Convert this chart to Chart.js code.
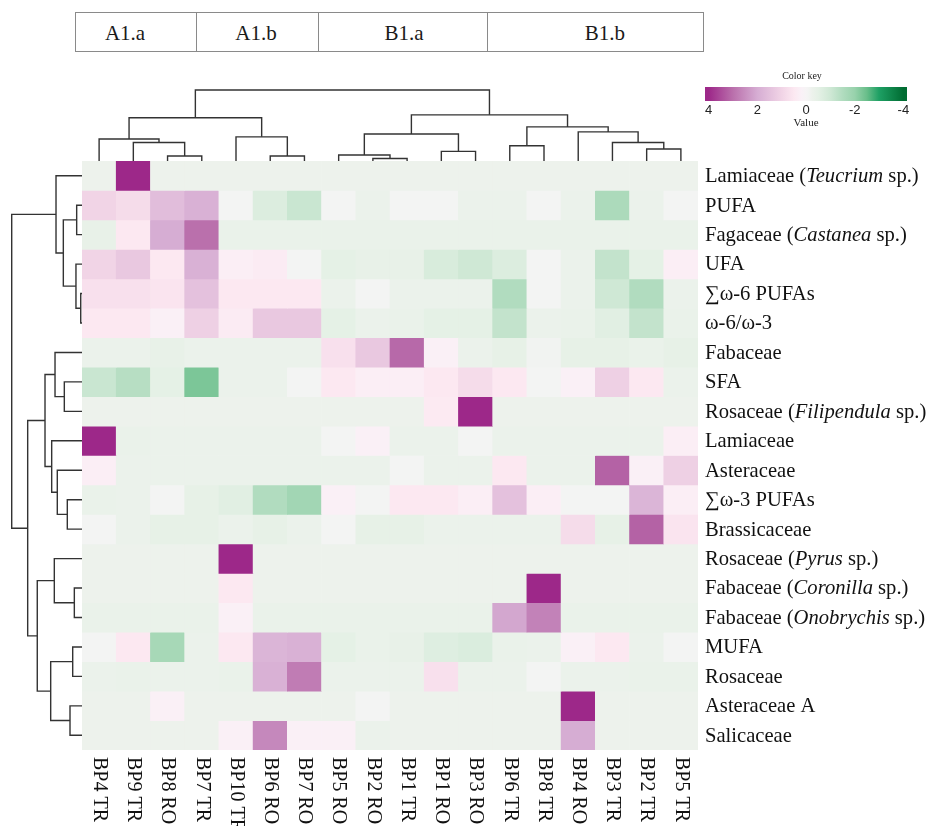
<!DOCTYPE html>
<html>
<head>
<meta charset="utf-8">
<script src="https://cdn.jsdelivr.net/npm/chart.js@4.4.1/dist/chart.umd.min.js"></script>
<style>
  html, body { margin: 0; padding: 0; background: #fff; }
  body { width: 941px; height: 826px; position: relative; overflow: hidden; font-family: "Liberation Serif", serif; }
  canvas.layer { position: absolute; left: 0; top: 0; }
  #groups { position: absolute; left: 75px; top: 12px; width: 629px; height: 40px; box-sizing: border-box; border: 1.5px solid #8a8a8a; }
  .divider { position: absolute; top: 12px; width: 0; height: 40px; border-left: 1.5px solid #8a8a8a; }
  .glabel { position: absolute; top: 33px; transform: translate(-50%, -50%); font-size: 21px; color: #1a1a1a; white-space: nowrap; }
</style>
</head>
<body>
<div id="groups"></div>
<div class="divider" style="left:196px"></div>
<div class="divider" style="left:318px"></div>
<div class="divider" style="left:487px"></div>
<div class="glabel" style="left:125px">A1.a</div>
<div class="glabel" style="left:256px">A1.b</div>
<div class="glabel" style="left:404px">B1.a</div>
<div class="glabel" style="left:605px">B1.b</div>

<canvas class="layer" id="heat" width="941" height="826"></canvas>
<canvas class="layer" id="dendroTop" width="941" height="826"></canvas>
<canvas class="layer" id="dendroLeft" width="941" height="826"></canvas>
<canvas class="layer" id="key" width="941" height="826"></canvas>

<script>
// ---- Samples (columns, in dendrogram order) ----
const columns = ["BP4 TR", "BP9 TR", "BP8 RO", "BP7 TR", "BP10 TR", "BP6 RO", "BP7 RO", "BP5 RO", "BP2 RO",
                 "BP1 TR", "BP1 RO", "BP3 RO", "BP6 TR", "BP8 TR", "BP4 RO", "BP3 TR", "BP2 TR", "BP5 TR"];

// ---- Variables (rows, in dendrogram order); _text_ is set in italics ----
const rowLabels = ["Lamiaceae (_Teucrium_ sp.)", "PUFA", "Fagaceae (_Castanea_ sp.)", "UFA", "\u2211\u03c9-6 PUFAs",
                   "\u03c9-6/\u03c9-3", "Fabaceae", "SFA", "Rosaceae (_Filipendula_ sp.)", "Lamiaceae", "Asteraceae",
                   "\u2211\u03c9-3 PUFAs", "Brassicaceae", "Rosaceae (_Pyrus_ sp.)", "Fabaceae (_Coronilla_ sp.)",
                   "Fabaceae (_Onobrychis_ sp.)", "MUFA", "Rosaceae", "Asteraceae A", "Salicaceae"];

// ---- Row-scaled values, one array per variable ----
const lamiaceaeTeucrium = [-0.24, 4.1, -0.24, -0.24, -0.24, -0.24, -0.24, -0.24, -0.24, -0.24, -0.24, -0.24, -0.24, -0.24, -0.24, -0.24, -0.24, -0.24];
const pufa              = [1.0, 0.8, 1.6, 1.9, -0.1, -0.7, -1.1, -0.1, -0.3, -0.1, -0.1, -0.3, -0.3, -0.1, -0.3, -1.6, -0.3, -0.1];
const fagaceaeCastanea  = [-0.4, 0.5, 2.0, 3.0, -0.35, -0.35, -0.35, -0.35, -0.35, -0.35, -0.35, -0.35, -0.35, -0.35, -0.35, -0.35, -0.35, -0.35];
const ufa               = [1.0, 1.3, 0.5, 1.9, 0.3, 0.4, -0.1, -0.5, -0.4, -0.4, -0.8, -1.0, -0.7, -0.1, -0.3, -1.2, -0.5, 0.3];
const omega6Sum         = [0.7, 0.7, 0.6, 1.5, 0.5, 0.5, 0.5, -0.3, -0.1, -0.3, -0.3, -0.3, -1.5, -0.1, -0.3, -1.0, -1.5, -0.3];
const omega6to3         = [0.5, 0.5, 0.25, 1.1, 0.4, 1.3, 1.3, -0.5, -0.3, -0.35, -0.5, -0.5, -1.2, -0.3, -0.35, -0.6, -1.2, -0.35];
const fabaceae          = [-0.3, -0.3, -0.4, -0.3, -0.3, -0.3, -0.3, 0.7, 1.3, 3.1, 0.25, -0.3, -0.45, -0.15, -0.45, -0.45, -0.35, -0.45];
const sfa               = [-1.1, -1.4, -0.5, -2.3, -0.3, -0.3, -0.1, 0.5, 0.3, 0.3, 0.5, 0.8, 0.5, -0.1, 0.25, 1.1, 0.5, -0.3];
const rosaceaeFilipend  = [-0.25, -0.25, -0.25, -0.25, -0.25, -0.25, -0.25, -0.25, -0.25, -0.25, 0.45, 4.0, -0.25, -0.25, -0.25, -0.25, -0.25, -0.25];
const lamiaceae         = [4.1, -0.35, -0.3, -0.3, -0.3, -0.3, -0.3, -0.1, 0.25, -0.3, -0.3, -0.1, -0.3, -0.3, -0.3, -0.3, -0.3, 0.3];
const asteraceae        = [0.3, -0.3, -0.3, -0.3, -0.3, -0.3, -0.3, -0.3, -0.3, -0.1, -0.3, -0.3, 0.5, -0.3, -0.3, 3.2, 0.25, 1.1];
const omega3Sum         = [-0.35, -0.3, -0.1, -0.45, -0.6, -1.5, -1.8, 0.25, -0.1, 0.5, 0.5, 0.3, 1.5, 0.3, -0.1, -0.1, 1.8, 0.3];
const brassicaceae      = [-0.1, -0.3, -0.45, -0.45, -0.3, -0.45, -0.3, -0.1, -0.45, -0.45, -0.3, -0.3, -0.3, -0.3, 0.8, -0.45, 3.2, 0.6];
const rosaceaePyrus     = [-0.24, -0.24, -0.24, -0.24, 4.1, -0.24, -0.24, -0.24, -0.24, -0.24, -0.24, -0.24, -0.24, -0.24, -0.24, -0.24, -0.24, -0.24];
const fabaceaeCoronilla = [-0.26, -0.26, -0.26, -0.26, 0.5, -0.26, -0.26, -0.26, -0.26, -0.26, -0.26, -0.26, -0.26, 4.0, -0.26, -0.26, -0.26, -0.26];
const fabaceaeOnobrych  = [-0.33, -0.33, -0.33, -0.33, 0.25, -0.33, -0.33, -0.33, -0.33, -0.33, -0.33, -0.33, 2.1, 2.7, -0.33, -0.33, -0.33, -0.33];
const mufa              = [-0.1, 0.5, -1.7, -0.3, 0.5, 1.8, 1.9, -0.5, -0.35, -0.4, -0.65, -0.75, -0.35, -0.3, 0.25, 0.5, -0.3, -0.1];
const rosaceae          = [-0.3, -0.35, -0.3, -0.3, -0.35, 1.9, 2.8, -0.3, -0.3, -0.3, 0.7, -0.3, -0.3, -0.1, -0.3, -0.3, -0.35, -0.35];
const asteraceaeA       = [-0.24, -0.24, 0.25, -0.24, -0.24, -0.24, -0.24, -0.24, -0.1, -0.24, -0.24, -0.24, -0.24, -0.24, 4.1, -0.24, -0.24, -0.24];
const salicaceae        = [-0.25, -0.25, -0.25, -0.25, 0.25, 2.6, 0.25, 0.25, -0.3, -0.25, -0.25, -0.25, -0.25, -0.25, 2.0, -0.25, -0.25, -0.25];

const values = [lamiaceaeTeucrium, pufa, fagaceaeCastanea, ufa, omega6Sum, omega6to3, fabaceae, sfa,
                rosaceaeFilipend, lamiaceae, asteraceae, omega3Sum, brassicaceae, rosaceaePyrus,
                fabaceaeCoronilla, fabaceaeOnobrych, mufa, rosaceae, asteraceaeA, salicaceae];

// ---- Clustering: [left, right, height]; ids >= leaf count refer to earlier merges ----
const columnMerges = [[2, 3, 0.7], [5, 6, 0.7], [8, 9, 0.35], [7, 20, 0.85], [10, 11, 1.35], [16, 17, 1.7],
                      [12, 13, 2.15], [1, 18, 2.6], [15, 23, 2.6], [0, 25, 3.1], [4, 19, 3.4], [21, 22, 3.8],
                      [14, 26, 4.1], [24, 30, 4.8], [27, 28, 6.1], [29, 31, 6.5], [32, 33, 10.0]];
const rowMerges = [[4, 5, 0.18], [1, 2, 0.75], [3, 20, 0.85], [14, 15, 1.08], [16, 17, 1.31], [18, 19, 1.69],
                   [11, 12, 2.07], [7, 8, 2.49], [21, 22, 2.63], [10, 26, 3.48], [0, 28, 3.66], [6, 27, 3.8],
                   [13, 23, 3.9], [9, 29, 4.27], [24, 25, 4.41], [31, 33, 5.21], [32, 34, 6.3], [35, 36, 7.65],
                   [30, 37, 9.9]];

// ---- Colour key ----
const keyTicks = [4, 2, 0, -2, -4];
const keyLimit = 4.15;
const colorStops = [
  [4.0, [157, 40, 137]], [3.0, [186, 112, 172]], [2.0, [214, 173, 211]], [1.0, [241, 212, 230]],
  [0.5, [252, 232, 241]], [0.2, [250, 241, 247]], [0.0, [246, 244, 245]], [-0.1, [243, 244, 243]],
  [-0.25, [237, 242, 236]], [-0.5, [229, 241, 230]], [-1.0, [207, 232, 213]], [-1.5, [177, 220, 191]],
  [-2.0, [152, 210, 172]], [-2.5, [105, 190, 138]], [-3.0, [30, 160, 100]], [-4.0, [0, 108, 50]]
];

function colorFor(v) {
  if (v >= colorStops[0][0]) return rgb(colorStops[0][1]);
  for (let i = 1; i < colorStops.length; i++) {
    const [v1, c1] = colorStops[i - 1], [v2, c2] = colorStops[i];
    if (v >= v2) {
      const t = (v1 - v) / (v1 - v2);
      return rgb(c1.map((c, k) => c + (c2[k] - c) * t));
    }
  }
  return rgb(colorStops[colorStops.length - 1][1]);
}
function rgb(c) { return `rgb(${Math.round(c[0])},${Math.round(c[1])},${Math.round(c[2])})`; }

const W = 941, H = 826;
const AREA = { left: 82, right: 698, top: 161, bottom: 750 };
const PX_PER_UNIT = 7.1;
const LINE = '#333333';
const SERIF = '"Liberation Serif", "Times New Roman", serif';

const baseOptions = () => ({
  responsive: false, animation: false, events: [],
  plugins: { legend: { display: false }, tooltip: { enabled: false }, title: { display: false } }
});

// ---- Heatmap: floating bars, one dataset per variable ----
const heatLabels = {
  id: 'heatLabels',
  afterDraw(chart) {
    const { ctx, chartArea, scales } = chart;
    ctx.save();
    ctx.fillStyle = '#111';
    ctx.textBaseline = 'middle';
    ctx.textAlign = 'left';
    rowLabels.forEach((lab, r) => {
      const y = scales.y.getPixelForValue(r + 0.5) + 1;
      let x = chartArea.right + 7;
      lab.split('_').forEach((part, k) => {
        ctx.font = (k % 2 ? 'italic ' : '') + '20.6px ' + SERIF;
        ctx.fillText(part, x, y);
        x += ctx.measureText(part).width;
      });
    });
    ctx.font = '20px ' + SERIF;
    columns.forEach((lab, j) => {
      ctx.save();
      ctx.translate(scales.x.getPixelForValue(j), chartArea.bottom + 7);
      ctx.rotate(Math.PI / 2);
      ctx.fillText(lab, 0, 0);
      ctx.restore();
    });
    ctx.restore();
  }
};

new Chart(document.getElementById('heat'), {
  type: 'bar',
  data: {
    labels: columns,
    datasets: values.map((row, r) => ({
      label: rowLabels[r],
      data: row.map(() => [r, r + 1]),
      backgroundColor: row.map(colorFor),
      borderWidth: 0,
      grouped: false,
      barPercentage: 1,
      categoryPercentage: 1
    }))
  },
  options: Object.assign(baseOptions(), {
    layout: { padding: { left: AREA.left, right: W - AREA.right, top: AREA.top, bottom: H - AREA.bottom } },
    scales: {
      x: { type: 'category', display: false, offset: true },
      y: { type: 'linear', display: false, min: 0, max: values.length, reverse: true }
    }
  }),
  plugins: [heatLabels]
});

// ---- Dendrograms ----
function dendroSegments(merges, nLeaves) {
  const pos = [], ht = [];
  for (let i = 0; i < nLeaves; i++) { pos.push(i); ht.push(0); }
  return merges.map(([a, b, h]) => {
    const seg = [[pos[a], ht[a]], [pos[a], h], [pos[b], h], [pos[b], ht[b]]];
    pos.push((pos[a] + pos[b]) / 2);
    ht.push(h);
    return seg;
  });
}
const lineDataset = (pts) => ({
  data: pts, showLine: true, pointRadius: 0, borderColor: LINE, borderWidth: 1.4,
  fill: false, tension: 0, clip: 2
});

const topTop = 80;
new Chart(document.getElementById('dendroTop'), {
  type: 'scatter',
  data: {
    datasets: dendroSegments(columnMerges, columns.length)
      .map(seg => lineDataset(seg.map(([p, h]) => ({ x: p, y: h }))))
  },
  options: Object.assign(baseOptions(), {
    layout: { padding: { left: AREA.left, right: W - AREA.right, top: topTop, bottom: H - AREA.top } },
    scales: {
      x: { type: 'linear', display: false, min: -0.5, max: columns.length - 0.5 },
      y: { type: 'linear', display: false, min: 0, max: (AREA.top - topTop) / PX_PER_UNIT }
    }
  })
});

new Chart(document.getElementById('dendroLeft'), {
  type: 'scatter',
  data: {
    datasets: dendroSegments(rowMerges, rowLabels.length)
      .map(seg => lineDataset(seg.map(([p, h]) => ({ x: h, y: p }))))
  },
  options: Object.assign(baseOptions(), {
    layout: { padding: { left: 0, right: W - AREA.left, top: AREA.top, bottom: H - AREA.bottom } },
    scales: {
      x: { type: 'linear', display: false, min: 0, max: AREA.left / PX_PER_UNIT, reverse: true },
      y: { type: 'linear', display: false, min: -0.5, max: rowLabels.length - 0.5, reverse: true }
    }
  })
});

// ---- Colour key bar ----
const keyText = {
  id: 'keyText',
  afterDraw(chart) {
    const { ctx, chartArea, scales } = chart;
    const cx = (chartArea.left + chartArea.right) / 2;
    ctx.save();
    ctx.fillStyle = '#222';
    ctx.textAlign = 'center';
    ctx.textBaseline = 'middle';
    ctx.font = '10px ' + SERIF;
    ctx.fillText('Color key', cx - 4, chartArea.top - 11);
    ctx.font = '13px "Liberation Sans", Arial, sans-serif';
    keyTicks.forEach(t => ctx.fillText(String(t), scales.x.getPixelForValue(t), chartArea.bottom + 9));
    ctx.font = '11px ' + SERIF;
    ctx.fillText('Value', scales.x.getPixelForValue(0), chartArea.bottom + 22);
    ctx.restore();
  }
};

new Chart(document.getElementById('key'), {
  type: 'bar',
  data: {
    labels: ['Value'],
    datasets: [{
      data: [[keyLimit, -keyLimit]],
      borderWidth: 0,
      barPercentage: 1,
      categoryPercentage: 1,
      backgroundColor: (c) => {
        const area = c.chart.chartArea;
        if (!area) return '#ccc';
        const g = c.chart.ctx.createLinearGradient(area.left, 0, area.right, 0);
        colorStops.forEach(([v, col]) => g.addColorStop((keyLimit - v) / (2 * keyLimit), rgb(col)));
        return g;
      }
    }]
  },
  options: Object.assign(baseOptions(), {
    indexAxis: 'y',
    layout: { padding: { left: 705, right: W - 907, top: 87, bottom: H - 101 } },
    scales: {
      x: { type: 'linear', display: false, min: -keyLimit, max: keyLimit, reverse: true },
      y: { type: 'category', display: false }
    }
  }),
  plugins: [keyText]
});
</script>
</body>
</html>
